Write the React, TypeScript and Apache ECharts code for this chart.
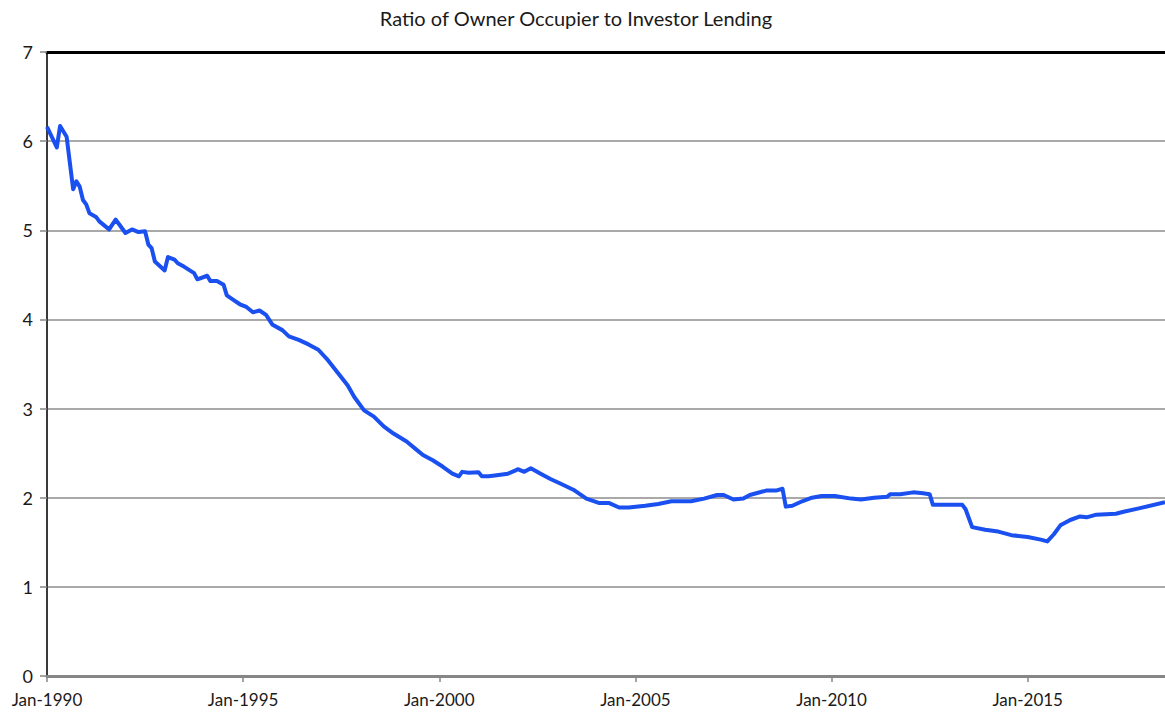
import React, { useEffect, useRef } from "react";
import * as echarts from "echarts";

const TITLE = "Ratio of Owner Occupier to Investor Lending";
const START_YEAR = 1990;
// months since Jan-1990
const months = [
  0, 3, 4, 6, 8, 9, 10, 11, 12, 13, 15, 16, 19, 21, 22, 24, 26, 28, 30, 31,
  32, 33, 36, 37, 39, 40, 42, 45, 46, 49, 50, 52, 54, 55, 57, 59, 61, 63, 65, 67,
  69, 72, 74, 77, 80, 83, 86, 89, 92, 94, 97, 100, 103, 106, 110, 113, 115, 118, 121, 124,
  126, 127, 129, 132, 133, 135, 137, 141, 143, 144, 146, 148, 151, 154, 157, 161, 165, 169, 172, 175,
  178, 183, 187, 191, 197, 201, 205, 207, 210, 213, 215, 220, 223, 225, 226, 228, 231, 234, 237, 241,
  246, 249, 253, 257, 258, 261, 265, 268, 270, 271, 280, 281, 283, 287, 291, 295, 300, 304, 306, 308,
  310, 313, 316, 318, 321, 327, 329, 334, 342,
];
const ratio = [
  6.16, 5.93, 6.17, 6.05, 5.46, 5.55, 5.49, 5.34, 5.29, 5.19, 5.15, 5.1, 5.01, 5.12, 5.07, 4.97, 5.01, 4.98, 4.99, 4.84,
  4.8, 4.65, 4.55, 4.7, 4.67, 4.63, 4.59, 4.52, 4.45, 4.49, 4.43, 4.43, 4.39, 4.27, 4.22, 4.17, 4.14, 4.08, 4.1, 4.05,
  3.94, 3.88, 3.81, 3.77, 3.72, 3.66, 3.54, 3.4, 3.26, 3.13, 2.98, 2.91, 2.8, 2.72, 2.63, 2.54, 2.48, 2.42, 2.35, 2.27,
  2.24, 2.29, 2.28, 2.285, 2.24, 2.24, 2.25, 2.27, 2.3, 2.32, 2.29, 2.33, 2.27, 2.21, 2.16, 2.09, 1.99, 1.94, 1.94, 1.89,
  1.89, 1.91, 1.93, 1.96, 1.96, 1.99, 2.03, 2.03, 1.98, 1.99, 2.03, 2.08, 2.08, 2.1, 1.9, 1.91, 1.96, 2.0, 2.02, 2.02,
  1.99, 1.98, 2.0, 2.01, 2.04, 2.04, 2.06, 2.05, 2.04, 1.92, 1.92, 1.87, 1.67, 1.64, 1.62, 1.58, 1.56, 1.53, 1.51, 1.59,
  1.69, 1.75, 1.79, 1.78, 1.81, 1.82, 1.84, 1.88, 1.95,
];
const X_MAX = 342;
const X_INTERVAL = 60;
const Y_MIN = 0;
const Y_MAX = 7;
const Y_INTERVAL = 1;

const FONT = "Lato, 'Open Sans', sans-serif";

export default function App() {
  const ref = useRef<HTMLDivElement>(null);
  useEffect(() => {
    document.body.style.margin = "0";
    const chart = echarts.init(ref.current!, null, { renderer: "svg" });
    const data = months.map((m, i) => [m, ratio[i]]);
    chart.setOption({
      animation: false,
      backgroundColor: "#ffffff",
      title: {
        text: TITLE,
        left: 571,
        textAlign: "center",
        top: 3,
        textStyle: { fontFamily: FONT, fontSize: 20, fontWeight: "normal", color: "#1a1a1a" },
      },
      grid: { left: 47, right: 0, top: 52, bottom: 38 },
      xAxis: [
        {
          type: "value",
          min: 0,
          max: X_MAX,
          interval: X_INTERVAL,
          axisLine: { show: true, lineStyle: { color: "#868686", width: 3 } },
          axisTick: { show: true, length: 6, inside: false, lineStyle: { color: "#868686", width: 1.5 } },
          splitLine: { show: false },
          axisLabel: {
            showMaxLabel: false,
            margin: 15,
            fontFamily: FONT,
            fontSize: 17,
            color: "#1a1a1a",
            formatter: (v: number) => "Jan-" + (START_YEAR + Math.round(v / 12)),
          },
        },
        {
          type: "value",
          position: "top",
          min: 0,
          max: X_MAX,
          axisLine: { show: true, onZero: false, lineStyle: { color: "#000000", width: 3 } },
          axisTick: { show: false },
          axisLabel: { show: false },
          splitLine: { show: false },
        },
      ],
      yAxis: {
        type: "value",
        min: Y_MIN,
        max: Y_MAX,
        interval: Y_INTERVAL,
        axisLine: { show: true, lineStyle: { color: "#3a3a3a", width: 2 } },
        axisTick: { show: true, length: 7, lineStyle: { color: "#868686", width: 1.5 } },
        splitLine: { show: true, lineStyle: { color: "#8c8c8c", width: 1.5 } },
        axisLabel: { margin: 14, fontFamily: FONT, fontSize: 18, color: "#1a1a1a" },
      },
      series: [
        {
          type: "line",
          xAxisIndex: 0,
          data,
          showSymbol: false,
          symbol: "none",
          lineStyle: { color: "#1a4ff0", width: 4, join: "round" },
          z: 5,
        },
      ],
    });
    return () => chart.dispose();
  }, []);
  return <div ref={ref} style={{ width: 1165, height: 714 }} />;
}
